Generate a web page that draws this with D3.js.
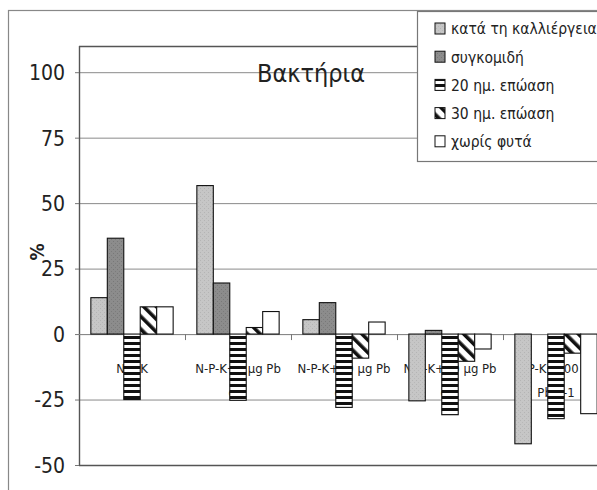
<!DOCTYPE html>
<html>
<head>
<meta charset="utf-8">
<script src="https://cdn.jsdelivr.net/npm/d3@7"></script>
<style>
  html, body { margin: 0; padding: 0; background: #fff; }
  svg { display: block; }
  text { font-family: "DejaVu Sans Condensed", "DejaVu Sans", sans-serif; fill: #222; }
</style>
</head>
<body>
<svg id="chart" width="597" height="490"></svg>
<script>
// Bacteria change (%) per fertilisation treatment
const categories = ["N-P-K", "N-P-K+5 μg Pb g-1", "N-P-K+10 μg Pb g-1", "N-P-K+50 μg Pb g-1", "N-P-K+100 μg Pb g-1"];
const categoryLines = [
  ["N-P-K"],
  ["N-P-K+5 μg Pb", "g-1"],
  ["N-P-K+10 μg Pb", "g-1"],
  ["N-P-K+50 μg Pb", "g-1"],
  ["N-P-K+100 μg", "Pb g-1"]
];
const seriesNames = ["κατά τη καλλιέργεια", "συγκομιδή", "20 ημ. επώαση", "30 ημ. επώαση", "χωρίς φυτά"];
const cultivation = [13.9, 56.7, 5.5, -25.5, -41.9];
const harvest     = [36.6, 19.5, 12.0, 1.4, 0];
const incub20     = [-25.0, -25.3, -28.0, -30.8, -32.3];
const incub30     = [10.4, 2.5, -9.2, -10.4, -7.3];
const noPlants    = [10.4, 8.6, 4.6, -5.7, -30.4];
const seriesValues = [cultivation, harvest, incub20, incub30, noPlants];
const yTicks = [-50, -25, 0, 25, 50, 75, 100];
const title = "Βακτήρια";
const yLabel = "%";

const svg = d3.select("#chart");
const defs = svg.append("defs");

// fills for each series
const hStripes = defs.append("pattern").attr("id", "hstripes")
  .attr("patternUnits", "userSpaceOnUse").attr("width", 8).attr("height", 6);
hStripes.append("rect").attr("width", 8).attr("height", 6).attr("fill", "#fff");
hStripes.append("rect").attr("y", 0).attr("width", 8).attr("height", 3).attr("fill", "#111");

const dStripes = defs.append("pattern").attr("id", "dstripes")
  .attr("patternUnits", "userSpaceOnUse").attr("width", 9).attr("height", 9)
  .attr("patternTransform", "rotate(-45)");
dStripes.append("rect").attr("width", 9).attr("height", 9).attr("fill", "#fff");
dStripes.append("rect").attr("x", 0).attr("width", 3.6).attr("height", 9).attr("fill", "#111");

const grain = defs.append("pattern").attr("id", "grain")
  .attr("patternUnits", "userSpaceOnUse").attr("width", 4).attr("height", 4);
grain.append("rect").attr("width", 4).attr("height", 4).attr("fill", "#c6c6c6");
grain.append("rect").attr("x", 0).attr("y", 0).attr("width", 1).attr("height", 1).attr("fill", "#b4b4b4");
grain.append("rect").attr("x", 2).attr("y", 2).attr("width", 1).attr("height", 1).attr("fill", "#b8b8b8");

const darkGrain = defs.append("pattern").attr("id", "darkgrain")
  .attr("patternUnits", "userSpaceOnUse").attr("width", 4).attr("height", 4);
darkGrain.append("rect").attr("width", 4).attr("height", 4).attr("fill", "#8c8c8c");
darkGrain.append("rect").attr("x", 1).attr("y", 1).attr("width", 1).attr("height", 1).attr("fill", "#787878");
darkGrain.append("rect").attr("x", 3).attr("y", 3).attr("width", 1).attr("height", 1).attr("fill", "#7c7c7c");

const fills = ["url(#grain)", "url(#darkgrain)", "url(#hstripes)", "url(#dstripes)", "#fff"];

// outer chart frame
svg.append("rect").attr("x", 8.5).attr("y", 10.5).attr("width", 620).attr("height", 520)
  .attr("fill", "none").attr("stroke", "#888").attr("stroke-width", 1.2);

const plot = { left: 79, top: 46, right: 609, bottom: 465 };

const x = d3.scaleBand().domain(categories).range([plot.left, plot.right]).padding(0);
const xs = d3.scaleBand().domain(seriesNames).range([0, x.bandwidth()])
  .paddingInner(0).paddingOuter(0.72);
const y = d3.scaleLinear().domain([-50, 110]).range([plot.bottom, plot.top]);

// gridlines
svg.append("g").selectAll("line").data(yTicks).join("line")
  .attr("x1", plot.left).attr("x2", plot.right)
  .attr("y1", d => y(d) + 0.5).attr("y2", d => y(d) + 0.5)
  .attr("stroke", d => d === -50 ? "#555" : "#8a8a8a").attr("stroke-width", d => d === -50 ? 1.4 : 1);

// plot border (left and top)
svg.append("line").attr("x1", plot.left).attr("x2", plot.right)
  .attr("y1", plot.top + 0.5).attr("y2", plot.top + 0.5).attr("stroke", "#555").attr("stroke-width", 1.4);
svg.append("line").attr("x1", plot.left + 0.5).attr("x2", plot.left + 0.5)
  .attr("y1", plot.top).attr("y2", plot.bottom).attr("stroke", "#555").attr("stroke-width", 1.4);

// y axis (plain hyphen for negatives)
const yAxis = d3.axisLeft(y).tickValues(yTicks).tickSize(4).tickPadding(10)
  .tickFormat(d => String(d));
const gy = svg.append("g").attr("transform", `translate(${plot.left},0)`).call(yAxis);
gy.select(".domain").remove();
gy.selectAll(".tick line").attr("stroke", "#777");
gy.selectAll(".tick text").attr("font-size", 21).attr("fill", "#222")
  .style("font-family", "'DejaVu Sans Condensed', sans-serif").attr("dy", "0.35em");

// category labels (under the bars)
const gx = svg.append("g");
categories.forEach((c, i) => {
  const t = gx.append("text")
    .attr("x", x(c) + x.bandwidth() / 2)
    .attr("y", 373)
    .attr("text-anchor", "middle")
    .attr("font-size", 13)
    .attr("fill", "#1a1a1a");
  categoryLines[i].forEach((line, j) => {
    t.append("tspan").attr("x", x(c) + x.bandwidth() / 2).attr("dy", j === 0 ? 0 : 24).text(line);
  });
});

// zero axis line with category separators
svg.append("line").attr("x1", plot.left).attr("x2", plot.right)
  .attr("y1", y(0) + 0.5).attr("y2", y(0) + 0.5).attr("stroke", "#888").attr("stroke-width", 1);
svg.append("g").selectAll("line").data(categories.slice(1)).join("line")
  .attr("x1", d => x(d) + 0.5).attr("x2", d => x(d) + 0.5)
  .attr("y1", y(0)).attr("y2", y(0) + 6).attr("stroke", "#777");

// bars
const bars = svg.append("g");
seriesNames.forEach((s, si) => {
  bars.append("g").selectAll("rect")
    .data(seriesValues[si].map((v, ci) => ({ c: categories[ci], v })))
    .join("rect")
    .attr("x", d => x(d.c) + xs(s))
    .attr("width", xs.bandwidth())
    .attr("y", d => Math.min(y(d.v), y(0)))
    .attr("height", d => Math.abs(y(d.v) - y(0)))
    .attr("fill", fills[si])
    .attr("stroke", "#111")
    .attr("stroke-width", 1.1);
});

// title
svg.append("text").attr("x", 311).attr("y", 82).attr("text-anchor", "middle")
  .attr("font-size", 25).attr("fill", "#1a1a1a")
  .style("font-family", "'DejaVu Sans Condensed', sans-serif").text(title);

// y label
svg.append("text").attr("transform", "translate(44,252) rotate(-90)")
  .attr("text-anchor", "middle").attr("font-size", 19).attr("font-weight", "bold")
  .attr("fill", "#222").text(yLabel);

// legend
const lg = svg.append("g");
lg.append("rect").attr("x", 417.5).attr("y", 11.5).attr("width", 200).attr("height", 150)
  .attr("fill", "#fff").attr("stroke", "#777").attr("stroke-width", 1.2);
seriesNames.forEach((s, i) => {
  const cy = 29 + i * 28.2;
  lg.append("rect").attr("x", 435).attr("y", cy - 6).attr("width", 10).attr("height", 11)
    .attr("fill", fills[i]).attr("stroke", "#111").attr("stroke-width", 1);
  lg.append("text").attr("x", 451).attr("y", cy).attr("dy", "0.35em")
    .attr("font-size", 15.5).attr("fill", "#222").text(s);
});
</script>
</body>
</html>
